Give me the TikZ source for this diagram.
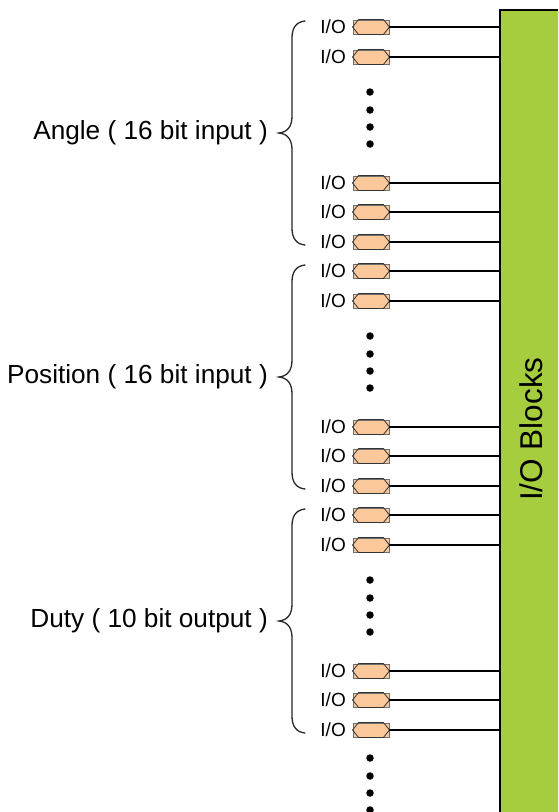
\documentclass[tikz,border=0pt]{standalone}
\usepackage{fontspec}
\setmainfont{Liberation Sans}
\definecolor{blockgreen}{RGB}{165,205,62}
\definecolor{padfill}{RGB}{250,200,155}
\definecolor{padedge}{RGB}{110,110,110}
\tikzset{
  iopad/.style={draw=padedge, line width=0.9pt, fill=padfill, minimum width=36pt,
    minimum height=14pt, inner sep=0pt},
  padhex/.style={draw=black!80, line width=0.8pt},
  iolabel/.style={anchor=east, inner sep=0pt, font=\fontsize{19}{22}\selectfont},
  wire/.style={draw=black, line width=1.5pt},
  grouplabel/.style={anchor=east, inner sep=0pt, font=\fontsize{26.2}{30}\selectfont},
  bracepath/.style={draw=black!85, line width=1.3pt, line cap=round},
  vdot/.style={circle, fill=black, inner sep=0pt, minimum size=7.5pt},
  ioblock/.style={draw=black, line width=2pt, fill=blockgreen}
}
\begin{document}
\begin{tikzpicture}[x=1pt, y=-1pt]
\useasboundingbox (0,0) rectangle (558,812);
\clip (0,0) rectangle (558,812);

% the I/O block, running off the right and bottom edges
\path[ioblock] (500,10) rectangle (580,840);
\coordinate (blk) at (500,10);
\node[rotate=90, font=\fontsize{31.5}{36}\selectfont, inner sep=0pt] (blocks) at (531,429) {I/O Blocks};

% pads of the three groups
\foreach \g/\off in {a/0, b/244, c/488} {
  \foreach \i/\yy in {1/27, 2/57, 3/183, 4/212, 5/242} {
    \node[iopad] (pad\g\i) at (371,\yy+\off) {};
    \draw[padhex] (pad\g\i.west) -- ([xshift=6pt]pad\g\i.north west)
      -- ([xshift=-6pt]pad\g\i.north east) -- (pad\g\i.east)
      -- ([xshift=-6pt]pad\g\i.south east) -- ([xshift=6pt]pad\g\i.south west) -- cycle;
    \node[iolabel] (lab\g\i) at (346,\yy+\off) {I/O};
    \draw[wire] (pad\g\i.east) -- (pad\g\i.east -| blk);
  }
  \foreach \j/\dy in {1/92, 2/110, 3/127, 4/144} {
    \node[vdot] (dot\g\j) at (370,\dy+\off) {};
  }
}

% trailing dots below the last group
\foreach \j/\dy in {1/758, 2/776, 3/793, 4/810} {
  \node[vdot] (tail\j) at (370,\dy) {};
}

% curly braces with the group names
\foreach \g/\off/\txt in {a/0/{Angle ( 16 bit input )}, b/244/{Position ( 16 bit input )}, c/488/{Duty ( 10 bit output )}} {
  \draw[bracepath] (305,21+\off) .. controls (296,22+\off) and (292,28+\off) .. (292,38+\off)
    -- (292,116+\off) .. controls (292,126+\off) and (288,132+\off) .. (279,133+\off)
    .. controls (288,134+\off) and (292,140+\off) .. (292,150+\off)
    -- (292,228+\off) .. controls (292,238+\off) and (296,244+\off) .. (305,245+\off);
  \node[grouplabel] (name\g) at (268,133+\off) {\txt};
}
\end{tikzpicture}
\end{document}
